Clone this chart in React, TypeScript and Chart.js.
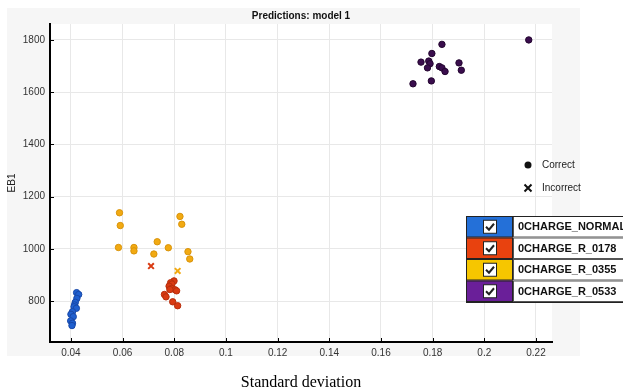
import React, { useEffect, useRef } from "react";
import { Chart, registerables } from "chart.js";
Chart.register(...registerables);

// ---- data ----
const seriesNames = ["0CHARGE_NORMAL", "0CHARGE_R_0178", "0CHARGE_R_0355", "0CHARGE_R_0533"];

const normalX = [0.0422, 0.043, 0.0423, 0.0417, 0.0414, 0.0412, 0.0421, 0.0406, 0.04, 0.0409, 0.0399, 0.0406, 0.0404];
const normalY = [832, 825, 810, 795, 785, 778, 772, 759, 749, 740, 724, 715, 706];

const r0178X = [0.0799, 0.0786, 0.0791, 0.078, 0.079, 0.0803, 0.0809, 0.0783, 0.0762, 0.0768, 0.0794, 0.0813];
const r0178Y = [877, 870, 865, 857, 848, 843, 839, 844, 825, 816, 797, 782];

const r0355X = [0.0588, 0.0591, 0.0584, 0.0644, 0.0644, 0.0734, 0.0721, 0.0777, 0.0822, 0.0829, 0.0853, 0.086];
const r0355Y = [1138, 1089, 1005, 1005, 992, 1027, 980, 1004, 1124, 1094, 989, 961];

const r0533X = [0.2172, 0.1836, 0.1797, 0.1755, 0.1785, 0.179, 0.178, 0.1826, 0.1836, 0.1848, 0.1902, 0.1911, 0.1795, 0.1724];
const r0533Y = [1800, 1783, 1748, 1715, 1719, 1709, 1693, 1698, 1693, 1679, 1712, 1684, 1643, 1632];

// incorrect predictions
const r0178WrongX = [0.071];
const r0178WrongY = [934];
const r0355WrongX = [0.0813];
const r0355WrongY = [915];

const xTicks = [0.04, 0.06, 0.08, 0.1, 0.12, 0.14, 0.16, 0.18, 0.2, 0.22];
const xTickLabels = ["0.04", "0.06", "0.08", "0.1", "0.12", "0.14", "0.16", "0.18", "0.2", "0.22"];
const yTicks = [800, 1000, 1200, 1400, 1600, 1800];
const yTickLabels = ["800", "1000", "1200", "1400", "1600", "1800"];

const pointColors = ["#1f5fcf", "#d93a12", "#f2aa12", "#3a0d4d"];
const pointBorders = ["#1848a8", "#b82e0c", "#d9940c", "#240630"];
const legendColors = ["#2470d8", "#e8420f", "#f6c600", "#6a1f99"];

const pts = (xs: number[], ys: number[]) => xs.map((x, i) => ({ x, y: ys[i] }));

const ARIAL = "'Liberation Sans', Arial, sans-serif";

export default function App() {
  const ref = useRef<HTMLCanvasElement | null>(null);

  useEffect(() => {
    const canvas = ref.current;
    if (!canvas) return;

    const bgPlugin = {
      id: "bgPanel",
      beforeDraw(chart: any) {
        const { ctx, chartArea } = chart;
        ctx.save();
        ctx.fillStyle = "#f6f6f6";
        ctx.fillRect(7, 8, 573, 348);
        ctx.fillStyle = "#ffffff";
        ctx.fillRect(chartArea.left, chartArea.top, chartArea.right - chartArea.left, chartArea.bottom - chartArea.top);
        ctx.restore();
      },
    };

    const overlayPlugin = {
      id: "overlay",
      afterDraw(chart: any) {
        const { ctx, chartArea, scales } = chart;
        ctx.save();
        // inward tick marks
        ctx.strokeStyle = "#000";
        ctx.lineWidth = 1;
        xTicks.forEach((v) => {
          const px = Math.round(scales.x.getPixelForValue(v)) + 0.5;
          ctx.beginPath();
          ctx.moveTo(px, chartArea.bottom);
          ctx.lineTo(px, chartArea.bottom - 4);
          ctx.stroke();
        });
        yTicks.forEach((v) => {
          const py = Math.round(scales.y.getPixelForValue(v)) + 0.5;
          ctx.beginPath();
          ctx.moveTo(chartArea.left, py);
          ctx.lineTo(chartArea.left + 4, py);
          ctx.stroke();
        });

        // marker legend
        ctx.fillStyle = "#111";
        ctx.beginPath();
        ctx.arc(528, 165, 3.5, 0, Math.PI * 2);
        ctx.fill();
        ctx.strokeStyle = "#111";
        ctx.lineWidth = 2;
        ctx.beginPath();
        ctx.moveTo(524.5, 184.5);
        ctx.lineTo(531.5, 191.5);
        ctx.moveTo(531.5, 184.5);
        ctx.lineTo(524.5, 191.5);
        ctx.stroke();
        ctx.font = "10px " + ARIAL;
        ctx.textBaseline = "middle";
        ctx.textAlign = "left";
        ctx.fillStyle = "#222";
        ctx.fillText("Correct", 542, 165);
        ctx.fillText("Incorrect", 542, 188);

        // table legend
        const left = 466;
        const colorW = 47;
        const top = 216;
        const rowH = 21.5;
        seriesNames.forEach((name, i) => {
          const y = top + i * rowH;
          ctx.fillStyle = legendColors[i];
          ctx.fillRect(left, y, colorW, rowH);
          ctx.fillStyle = "#ffffff";
          ctx.fillRect(left + colorW, y, 200, rowH);
          ctx.strokeStyle = "#555";
          ctx.lineWidth = 1;
          ctx.strokeRect(left + colorW + 0.5, y + 0.5, 200, rowH - 1);
          ctx.strokeStyle = "#222";
          ctx.strokeRect(left + 0.5, y + 0.5, colorW - 1, rowH - 1);
          // checkbox
          const cx = left + 24;
          const cy = y + rowH / 2;
          ctx.fillStyle = "#fff";
          ctx.fillRect(cx - 6.5, cy - 6.5, 13, 13);
          ctx.strokeStyle = "#222";
          ctx.lineWidth = 1;
          ctx.strokeRect(cx - 6.5, cy - 6.5, 13, 13);
          ctx.lineWidth = 2;
          ctx.beginPath();
          ctx.moveTo(cx - 4, cy);
          ctx.lineTo(cx - 1, cy + 3);
          ctx.lineTo(cx + 4, cy - 3);
          ctx.stroke();
          // label
          ctx.fillStyle = "#111";
          ctx.font = "bold 11px " + ARIAL;
          ctx.textBaseline = "middle";
          ctx.fillText(name, left + colorW + 5, cy + 0.5);
        });
        ctx.strokeStyle = "#222";
        ctx.lineWidth = 1;
        ctx.strokeRect(left + 0.5, top + 0.5, 300, rowH * 4);
        ctx.restore();
      },
    };

    const circle = (label: string, data: any[], i: number) => ({
      label,
      data,
      pointStyle: "circle",
      pointRadius: 3.2,
      backgroundColor: pointColors[i],
      borderColor: pointBorders[i],
      borderWidth: 1,
    });
    const cross = (label: string, data: any[], i: number) => ({
      label,
      data,
      pointStyle: "crossRot",
      pointRadius: 4,
      backgroundColor: pointColors[i],
      borderColor: pointColors[i],
      borderWidth: 2,
    });

    const chart = new Chart(canvas, {
      type: "scatter",
      data: {
        datasets: [
          circle(seriesNames[0], pts(normalX, normalY), 0),
          circle(seriesNames[1], pts(r0178X, r0178Y), 1),
          circle(seriesNames[2], pts(r0355X, r0355Y), 2),
          circle(seriesNames[3], pts(r0533X, r0533Y), 3),
          cross(seriesNames[1] + " (incorrect)", pts(r0178WrongX, r0178WrongY), 1),
          cross(seriesNames[2] + " (incorrect)", pts(r0355WrongX, r0355WrongY), 2),
        ],
      },
      options: {
        animation: false,
        responsive: false,
        devicePixelRatio: 1,
        layout: { padding: { left: 0, right: 71, top: 0, bottom: 0 } },
        plugins: {
          legend: { display: false },
          tooltip: { enabled: false },
          title: {
            display: true,
            text: "Predictions: model 1",
            fullSize: false,
            color: "#111",
            font: { family: ARIAL, size: 10, weight: "bold" },
            padding: { top: 10, bottom: 2 },
          },
        },
        scales: {
          x: {
            type: "linear",
            min: 0.0319,
            max: 0.2262,
            afterBuildTicks: (s: any) => {
              s.ticks = xTicks.map((v) => ({ value: v }));
            },
            afterFit: (s: any) => {
              s.height = 50;
            },
            ticks: {
              autoSkip: false,
              maxRotation: 0,
              padding: 5,
              color: "#333",
              font: { family: ARIAL, size: 10 },
              callback: (_v: any, i: number) => xTickLabels[i],
            },
            grid: { color: "#e8e8e8", drawTicks: false },
            border: { display: true, color: "#000", width: 2 },
            title: {
              display: true,
              text: "Standard deviation",
              color: "#000",
              font: { family: "'Liberation Serif', 'Times New Roman', serif", size: 16 },
              padding: { top: 0, bottom: 0 },
            },
          },
          y: {
            type: "linear",
            min: 643,
            max: 1861,
            afterBuildTicks: (s: any) => {
              s.ticks = yTicks.map((v) => ({ value: v }));
            },
            afterFit: (s: any) => {
              s.width = 50;
            },
            ticks: {
              autoSkip: false,
              padding: 5,
              color: "#333",
              font: { family: ARIAL, size: 10 },
              callback: (_v: any, i: number) => yTickLabels[i],
            },
            grid: { color: "#e8e8e8", drawTicks: false },
            border: { display: true, color: "#000", width: 2 },
            title: {
              display: true,
              text: "EB1",
              color: "#222",
              font: { family: ARIAL, size: 10 },
              padding: { top: 6, bottom: 0 },
            },
          },
        },
      } as any,
      plugins: [bgPlugin, overlayPlugin],
    });

    return () => chart.destroy();
  }, []);

  return (
    <div style={{ position: "absolute", left: 0, top: 0, width: 623, height: 392, background: "#fff" }}>
      <canvas ref={ref} width={623} height={392} style={{ display: "block", width: 623, height: 392 }} />
    </div>
  );
}
